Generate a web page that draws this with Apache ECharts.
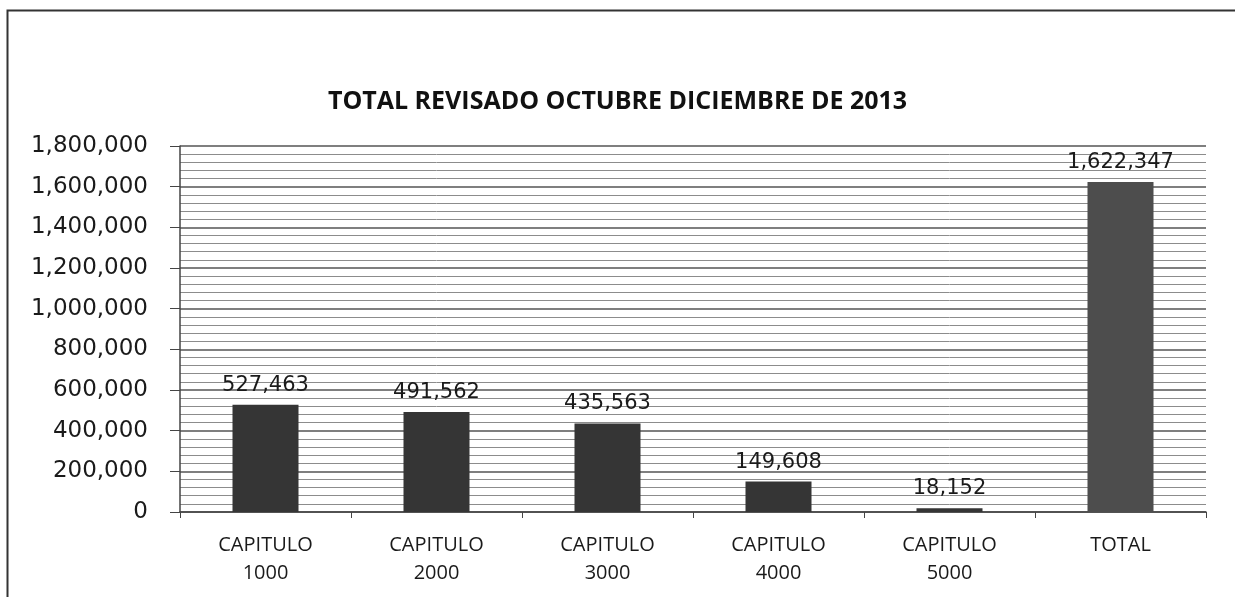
<!DOCTYPE html>
<html>
<head>
<meta charset="utf-8">
<title>Total revisado octubre diciembre de 2013</title>
<script src="https://cdn.jsdelivr.net/npm/echarts@6/dist/echarts.min.js"></script>
<style>
	html, body { margin: 0; padding: 0; background: #fff; }
	#chart { width: 1235px; height: 597px; }
</style>
</head>
<body>
<div id="chart"></div>
<script>
// data
const categories = ['CAPITULO\n1000', 'CAPITULO\n2000', 'CAPITULO\n3000', 'CAPITULO\n4000', 'CAPITULO\n5000', 'TOTAL'];
const values = [527463, 491562, 435563, 149608, 18152, 1622347];
const yTicks = [0, 1800000, 200000]; // min, max, step

const fmt = (v) => v.toLocaleString('en-US');

const getOption = () => {
	return {
		backgroundColor: '#fff',
		animation: false,
		title: {
			text: 'TOTAL REVISADO OCTUBRE DICIEMBRE DE 2013',
			left: 'center',
			top: 84,
			textStyle: {
				fontFamily: 'Open Sans',
				fontWeight: 'bold',
				fontSize: 25,
				color: '#111'
			}
		},
		graphic: [
			{
				// frame of the scanned chart area
				type: 'rect',
				shape: { x: 7.5, y: 10.5, width: 1240, height: 600 },
				style: { fill: 'none', stroke: '#333', lineWidth: 2 },
				silent: true
			}
		],
		grid: {
			left: 180,
			right: 29,
			top: 146,
			bottom: 85
		},
		xAxis: {
			type: 'category',
			data: categories,
			axisLine: { lineStyle: { color: '#444', width: 1.5 } },
			axisTick: { show: true, length: 6, lineStyle: { color: '#444' } },
			axisLabel: {
				fontFamily: 'Open Sans',
				fontSize: 20,
				color: '#1a1a1a',
				lineHeight: 28,
				margin: 19
			}
		},
		yAxis: {
			type: 'value',
			min: yTicks[0],
			max: yTicks[1],
			interval: yTicks[2],
			axisLine: { show: true, lineStyle: { color: '#444', width: 1.5 } },
			axisTick: { show: true, length: 10, lineStyle: { color: '#444' } },
			axisLabel: {
				fontFamily: 'DejaVu Sans',
				fontSize: 23,
				color: '#1a1a1a',
				margin: 32,
				formatter: fmt
			},
			splitLine: { lineStyle: { color: '#555', width: 1.5 } },
			minorTick: { show: false, splitNumber: 5 },
			minorSplitLine: { show: true, lineStyle: { color: '#8c8c8c', width: 1 } }
		},
		series: [
			{
				type: 'bar',
				data: values,
				barWidth: 66,
				itemStyle: {
					color: (p) => p.dataIndex === values.length - 1 ? '#4d4d4d' : '#353535'
				},
				label: {
					show: true,
					position: 'top',
					distance: 9,
					fontFamily: 'DejaVu Sans',
					fontSize: 21,
					color: '#1a1a1a',
					formatter: (p) => fmt(p.value)
				}
			}
		]
	};
};

const initCharts = () => {
	const chart = echarts.init(document.getElementById('chart'));
	chart.setOption(getOption());
};

initCharts();
</script>
</body>
</html>
